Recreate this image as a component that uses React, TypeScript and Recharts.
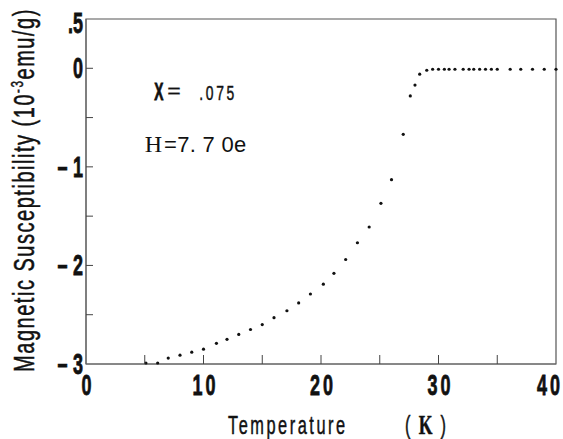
import React from "react";
import {
  ScatterChart,
  Scatter,
  XAxis,
  YAxis,
  ReferenceArea,
  ReferenceDot,
} from "recharts";

// Temperature (K) of each measured point
const temperatures = [
  5.1, 6.1, 7.0, 8.0, 9.0, 10.0, 11.1, 12.0, 13.0, 14.0, 15.0, 16.0, 17.1,
  18.1, 19.1, 20.2, 21.1, 22.1, 23.1, 24.1, 25.1, 26.0, 27.0, 27.6, 28.0, 28.4,
  29.0, 29.5, 30.0, 30.5, 30.9, 31.4, 32.1, 32.6, 33.0, 33.5, 34.0, 34.5, 35.0,
  36.1, 37.0, 38.0, 39.0, 40.0,
];

// Magnetic susceptibility (10^-3 emu/g)
const susceptibility = [
  -2.99, -2.99, -2.94, -2.91, -2.88, -2.85, -2.79, -2.75, -2.7, -2.65, -2.6,
  -2.53, -2.46, -2.38, -2.29, -2.19, -2.08, -1.94, -1.77, -1.61, -1.37, -1.13,
  -0.67, -0.28, -0.17, -0.06, -0.02, -0.01, -0.01, -0.01, -0.01, -0.01, -0.01,
  -0.01, -0.01, -0.01, -0.01, -0.01, -0.01, -0.01, -0.01, -0.01, -0.01, -0.01,
];

const xTicks = [0, 5, 10, 15, 20, 25, 30, 35, 40];
const yTicks = [-3, -2.5, -2, -1.5, -1, -0.5, 0, 0.5];
const yLabels: Record<string, string> = {
  "0.5": ".5",
  "0": "0",
  "-1": "1",
  "-2": "2",
  "-3": "3",
};

const data = temperatures.map((t, i) => ({ t, chi: susceptibility[i] }));

const SANS = "'Liberation Sans', Arial, sans-serif";
const SERIF = "'Liberation Serif', serif";
const INK = "#111";

// condensed text: the original lettering is a narrow, heavy grotesque
function Narrow({ x, y, sx = 0.62, rotate = 0, weight = 0.5, children, ...rest }: any) {
  return (
    <text
      transform={`translate(${x},${y}) rotate(${rotate}) scale(${sx},1)`}
      fontFamily={SANS}
      fill={INK}
      stroke={INK}
      strokeWidth={weight}
      {...rest}
    >
      {children}
    </text>
  );
}

function XTick({ x, y, payload }: any) {
  const v = payload.value;
  const edge = v === 0 || v === 40;
  return (
    <g>
      {!edge && <line x1={x} y1={y} x2={x} y2={y - 9} stroke="#444" />}
      {v % 10 === 0 && (
        <Narrow
          x={v === 40 ? x - 5 : x + 2}
          y={y + 31}
          textAnchor="middle"
          fontWeight="bold"
          fontSize={29}
          letterSpacing={5}
          weight={0.8}
        >
          {String(v)}
        </Narrow>
      )}
    </g>
  );
}

function YTick({ x, y, payload }: any) {
  const v = payload.value;
  const label = yLabels[String(v)];
  const edge = v === -3 || v === 0.5;
  return (
    <g>
      {!edge && <line x1={x} y1={y} x2={x + 7} y2={y} stroke="#444" />}
      {label && (
        <Narrow
          x={x - 3}
          y={y + (v === 0.5 ? 14 : 10)}
          textAnchor="end"
          fontWeight="bold"
          fontSize={29}
          weight={0.8}
        >
          {v < 0 && <tspan>–</tspan>}
          <tspan dx={v < 0 ? 9 : 0}>{label}</tspan>
        </Narrow>
      )}
    </g>
  );
}

const Dot = (props: any) => (
  <circle cx={props.cx} cy={props.cy} r={1.6} fill={INK} />
);

export default function App() {
  return (
    <div style={{ position: "absolute", left: 0, top: 0, background: "#fff" }}>
      <ScatterChart
        width={563}
        height={439}
        margin={{ top: 19, right: 7, bottom: 45, left: 0 }}
      >
        <XAxis
          type="number"
          dataKey="t"
          domain={[0, 40]}
          ticks={xTicks}
          tick={<XTick />}
          tickLine={false}
          tickSize={0}
          tickMargin={0}
          height={30}
          axisLine={{ stroke: "#666" }}
          label={{
            content: ({ viewBox }: any) => (
              <g>
                <Narrow
                  x={viewBox.x + 142}
                  y={viewBox.y + 70}
                  fontSize={26}
                  letterSpacing={4}
                  sx={0.63}
                >
                  Temperature
                </Narrow>
                <Narrow
                  x={viewBox.x + 319}
                  y={viewBox.y + 70}
                  fontSize={26}
                  sx={0.63}
                >
                  (
                  <tspan dx={13} fontFamily={SERIF} fontWeight="bold" fontSize={28}>
                    K
                  </tspan>
                  <tspan dx={13}>)</tspan>
                </Narrow>
              </g>
            ),
          }}
        />
        <YAxis
          type="number"
          dataKey="chi"
          domain={[-3, 0.5]}
          ticks={yTicks}
          tick={<YTick />}
          tickLine={false}
          tickSize={0}
          tickMargin={0}
          width={86}
          axisLine={{ stroke: "#666" }}
          label={{
            content: ({ viewBox }: any) => (
              <Narrow
                x={34}
                y={viewBox.y + 171}
                rotate={-90}
                textAnchor="middle"
                fontSize={29}
                letterSpacing={2.2}
                sx={0.69}
              >
                Magnetic  Susceptibility (10
                <tspan dy={-11} fontSize={17}>-3</tspan>
                <tspan dy={11}>emu/g)</tspan>
              </Narrow>
            ),
          }}
        />
        <ReferenceArea
          x1={0}
          x2={40}
          y1={-3}
          y2={0.5}
          fill="none"
          stroke="#555"
          strokeWidth={1.2}
          ifOverflow="visible"
        />
        <ReferenceDot
          x={5.9}
          y={-0.27}
          r={0}
          label={{
            content: ({ viewBox }: any) => (
              <g>
                <Narrow x={viewBox.x - 1} y={viewBox.y + 5} fontSize={23} fontWeight="bold" sx={0.6} weight={0.8}>
                  X
                </Narrow>
                <Narrow x={viewBox.x + 12} y={viewBox.y + 3} fontSize={21} sx={1.1} weight={0.3}>
                  =
                </Narrow>
                <Narrow x={viewBox.x + 44} y={viewBox.y + 5} fontSize={21} letterSpacing={4} sx={0.66}>
                  .075
                </Narrow>
              </g>
            ),
          }}
        />
        <ReferenceDot
          x={5.0}
          y={-0.76}
          r={0}
          label={{
            content: ({ viewBox }: any) => (
              <text x={viewBox.x} y={viewBox.y + 9} fill={INK} fontSize={24}>
                <tspan fontFamily={SERIF}>H</tspan>
                <tspan fontFamily={SANS} fontSize={22} dx={2} letterSpacing={0.3}>
                  =7. 7  0e
                </tspan>
              </text>
            ),
          }}
        />
        <Scatter data={data} shape={<Dot />} isAnimationActive={false} />
      </ScatterChart>
    </div>
  );
}
